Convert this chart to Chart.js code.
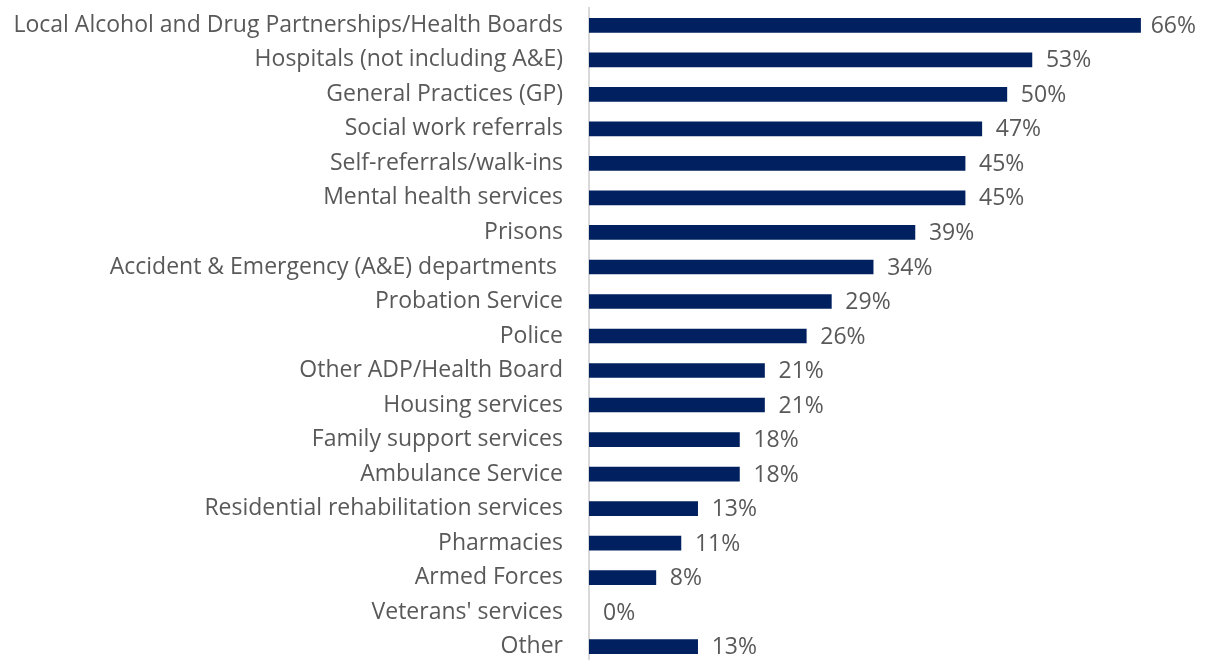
<!DOCTYPE html>
<html>
<head>
<meta charset="utf-8">
<script src="https://cdn.jsdelivr.net/npm/chart.js@4.4.0/dist/chart.umd.min.js"></script>
<style>
  html, body { margin: 0; padding: 0; background: #fff; overflow: hidden; }
  #wrap { width: 1206px; height: 672px; }
</style>
</head>
<body>
<div id="wrap"><canvas id="referrals" width="1206" height="672"></canvas></div>
<script>
// referral sources, top to bottom
const sources = [
  "Local Alcohol and Drug Partnerships/Health Boards",
  "Hospitals (not including A&E)",
  "General Practices (GP)",
  "Social work referrals",
  "Self-referrals/walk-ins",
  "Mental health services",
  "Prisons",
  "Accident & Emergency (A&E) departments ",
  "Probation Service",
  "Police",
  "Other ADP/Health Board",
  "Housing services",
  "Family support services",
  "Ambulance Service",
  "Residential rehabilitation services",
  "Pharmacies",
  "Armed Forces",
  "Veterans' services",
  "Other"
];
// share of respondents, %
const shares = [66, 53, 50, 47, 45, 45, 39, 34, 29, 26, 21, 21, 18, 18, 13, 11, 8, 0, 13];

const fontFamily = "'Open Sans', sans-serif";
const textColor = "#595959";

// value labels drawn just past the end of each bar
const barValues = {
  id: 'barValues',
  afterDatasetsDraw(chart) {
    const ctx = chart.ctx;
    const meta = chart.getDatasetMeta(0);
    ctx.save();
    ctx.font = "23px " + fontFamily;
    ctx.fillStyle = textColor;
    ctx.textBaseline = 'middle';
    ctx.textAlign = 'left';
    meta.data.forEach((bar, i) => {
      const txt = shares[i] + '%';
      const w = ctx.measureText(txt).width;
      // keep the widest label inside the canvas
      const x = Math.min(bar.x + 14, chart.width - 10 - w);
      ctx.fillText(txt, x, bar.y + 1);
    });
    ctx.restore();
  }
};

new Chart("referrals", {
  type: 'bar',
  data: {
    labels: sources,
    datasets: [{
      data: shares,
      backgroundColor: ctx => ctx.raw === 0 ? 'rgba(0,0,0,0)' : "#002060",
      barThickness: 14
    }]
  },
  options: {
    indexAxis: 'y',
    responsive: false,
    animation: false,
    devicePixelRatio: 1,
    layout: { padding: { top: 0, right: 32, bottom: 0, left: 0 } },
    plugins: {
      legend: { display: false },
      tooltip: { enabled: false }
    },
    scales: {
      x: {
        min: 0,
        max: 70,
        display: false
      },
      y: {
        // invisible tick marks give the gap between labels and the axis line
        grid: { display: true, drawOnChartArea: false, drawTicks: true, tickLength: 26, color: 'rgba(0,0,0,0)' },
        border: { display: true, color: "#d9d9d9", width: 2 },
        ticks: {
          color: textColor,
          padding: 0,
          autoSkip: false,
          // tight line height keeps the plot close to the top edge
          font: { family: fontFamily, size: 23, lineHeight: 0.7 }
        },
        afterFit(scale) { scale.width = 589; }
      }
    }
  },
  plugins: [barValues]
});
</script>
</body>
</html>
